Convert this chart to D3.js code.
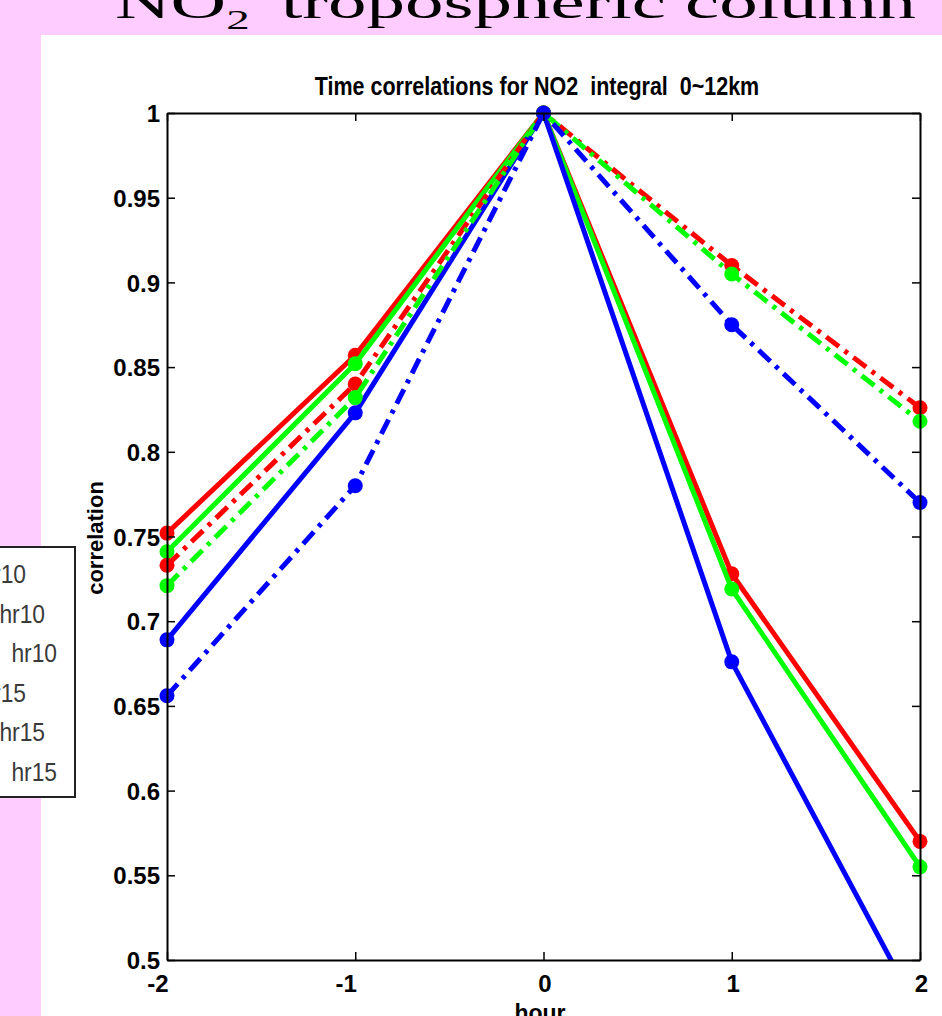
<!DOCTYPE html>
<html>
<head>
<meta charset="utf-8">
<script src="https://cdn.jsdelivr.net/npm/d3@7"></script>
<style>
  html, body { margin: 0; padding: 0; background: #ffccff; overflow: hidden; }
  svg { display: block; }
</style>
</head>
<body>
<svg id="chart" width="942" height="1016"></svg>
<script>
// ---------- data ----------
const hours = [-2, -1, 0, 1, 2];
const redSolid     = [0.752, 0.857, 1.000, 0.728, 0.570];
const greenSolid   = [0.741, 0.852, 1.000, 0.719, 0.555];
const blueSolid    = [0.689, 0.823, 1.000, 0.676, 0.468];
const redDashDot   = [0.733, 0.840, 1.000, 0.910, 0.826];
const greenDashDot = [0.721, 0.832, 1.000, 0.905, 0.818];
const blueDashDot  = [0.656, 0.780, 1.000, 0.875, 0.770];
const xTicks = [-2, -1, 0, 1, 2];
const xTickLabels = ["-2", "-1", "0", "1", "2"];
const yTicks = [0.5, 0.55, 0.6, 0.65, 0.7, 0.75, 0.8, 0.85, 0.9, 0.95, 1];
const yTickLabels = ["0.5", "0.55", "0.6", "0.65", "0.7", "0.75", "0.8", "0.85", "0.9", "0.95", "1"];
const legendLabels = ["hr10", "hr10", "hr10", "hr15", "hr15", "hr15"];
const slideTitleMain = "NO";
const slideTitleSub = "2";
const slideTitleRest = "tropospheric column";
const chartTitle = "Time correlations for NO2  integral  0~12km";
const xLabel = "hour";
const yLabel = "correlation";

// ---------- layout ----------
const svg = d3.select("#chart");
const W = 942, H = 1016;
const plot = { left: 167, right: 920, top: 113, bottom: 960 };

svg.append("rect").attr("x", 0).attr("y", 0).attr("width", W).attr("height", H).attr("fill", "#ffccff");
svg.append("rect").attr("x", 41).attr("y", 35).attr("width", W - 41).attr("height", H - 35).attr("fill", "#ffffff");

// slide title (top portion cut off)
const st = svg.append("text")
  .attr("transform", "translate(115,18) scale(1,0.6)")
  .attr("font-family", "'Liberation Serif', 'Times New Roman', serif")
  .attr("font-size", 77)
  .attr("fill", "#000");
st.append("tspan").text(slideTitleMain);
st.append("tspan").attr("font-size", 47).attr("dy", 18).text(slideTitleSub);
st.append("tspan").attr("x", 166).attr("dy", -18).text(slideTitleRest);

// scales
const x = d3.scaleLinear().domain([-2, 2]).range([plot.left, plot.right]);
const y = d3.scaleLinear().domain([0.5, 1]).range([plot.bottom, plot.top]);

// clip
svg.append("clipPath").attr("id", "plotClip")
  .append("rect")
  .attr("x", plot.left).attr("y", plot.top)
  .attr("width", plot.right - plot.left).attr("height", plot.bottom - plot.top);

// series
const series = [
  { values: redSolid, color: "#ff0000", dash: null },
  { values: greenSolid, color: "#00ff00", dash: null },
  { values: blueSolid, color: "#0000ff", dash: null },
  { values: redDashDot, color: "#ff0000", dash: "16,7,4,7" },
  { values: greenDashDot, color: "#00ff00", dash: "16,7,4,7" },
  { values: blueDashDot, color: "#0000ff", dash: "16,7,4,7" }
];

const line = d3.line().x((d, i) => x(hours[i])).y(d => y(d));

const sg = svg.append("g");
series.forEach(s => {
  sg.append("path")
    .datum(s.values)
    .attr("clip-path", "url(#plotClip)")
    .attr("d", line)
    .attr("fill", "none")
    .attr("stroke", s.color)
    .attr("stroke-width", 5)
    .attr("stroke-linejoin", "round")
    .attr("stroke-dasharray", s.dash);
  sg.selectAll(null)
    .data(s.values.map((v, i) => ({ h: hours[i], v })).filter(d => d.v >= 0.5 && d.v <= 1))
    .enter().append("circle")
    .attr("cx", d => x(d.h))
    .attr("cy", d => y(d.v))
    .attr("r", 7.5)
    .attr("fill", s.color);
});

// axes (box with inward ticks)
const tickFont = "'Liberation Sans', Arial, Helvetica, sans-serif";
const axB = svg.append("g").attr("transform", `translate(0,${plot.bottom})`)
  .call(d3.axisBottom(x).tickValues(xTicks).tickSizeInner(-8).tickSizeOuter(0)
    .tickFormat((d, i) => xTickLabels[i]));
const axL = svg.append("g").attr("transform", `translate(${plot.left},0)`)
  .call(d3.axisLeft(y).tickValues(yTicks).tickSizeInner(-8).tickSizeOuter(0).tickPadding(7)
    .tickFormat((d, i) => yTickLabels[i]));
const axT = svg.append("g").attr("transform", `translate(0,${plot.top})`)
  .call(d3.axisTop(x).tickValues(xTicks).tickSizeInner(-8).tickSizeOuter(0).tickFormat(""));
const axR = svg.append("g").attr("transform", `translate(${plot.right},0)`)
  .call(d3.axisRight(y).tickValues(yTicks).tickSizeInner(-8).tickSizeOuter(0).tickFormat(""));

[axB, axL, axT, axR].forEach(a => {
  a.select(".domain").attr("stroke", "#000").attr("stroke-width", 2);
  a.selectAll(".tick line").attr("stroke", "#000").attr("stroke-width", 1.5);
  a.selectAll("text")
    .attr("font-family", tickFont)
    .attr("font-size", 24)
    .attr("font-weight", "bold")
    .attr("fill", "#000");
});
axB.selectAll(".tick text")
  .attr("dy", 0).attr("y", 32)
  .attr("text-anchor", d => d < 0 ? "end" : "middle")
  .attr("x", 1);
axL.selectAll(".tick text").attr("dy", "0.36em");

// chart title
svg.append("text")
  .attr("transform", "translate(537,95) scale(1,1.18)")
  .attr("text-anchor", "middle")
  .attr("font-family", tickFont)
  .attr("font-size", 21.5)
  .attr("font-weight", "bold")
  .style("white-space", "pre")
  .attr("xml:space", "preserve")
  .text(chartTitle);

// axis labels
svg.append("text")
  .attr("x", 540).attr("y", 1021)
  .attr("text-anchor", "middle")
  .attr("font-family", tickFont)
  .attr("font-size", 23)
  .attr("font-weight", "bold")
  .text(xLabel);

svg.append("text")
  .attr("transform", "translate(103,538) rotate(-90)")
  .attr("text-anchor", "middle")
  .attr("font-family", tickFont)
  .attr("font-size", 22)
  .attr("font-weight", "bold")
  .text(yLabel);

// legend (mostly cut off at the left edge)
const lg = svg.append("g");
lg.append("rect")
  .attr("x", -300).attr("y", 547)
  .attr("width", 375).attr("height", 250)
  .attr("fill", "#ffffff")
  .attr("stroke", "#222")
  .attr("stroke-width", 2);
const legendEnds = [26, 45, 57, 26, 45, 57];
lg.selectAll(null)
  .data(legendLabels)
  .enter().append("text")
  .attr("transform", (d, i) => `translate(${legendEnds[i]},${583 + i * 39.6}) scale(0.95,1.05)`)
  .attr("text-anchor", "end")
  .attr("font-family", tickFont)
  .attr("font-size", 24)
  .attr("fill", "#3a3a3a")
  .text(d => d);
</script>
</body>
</html>
